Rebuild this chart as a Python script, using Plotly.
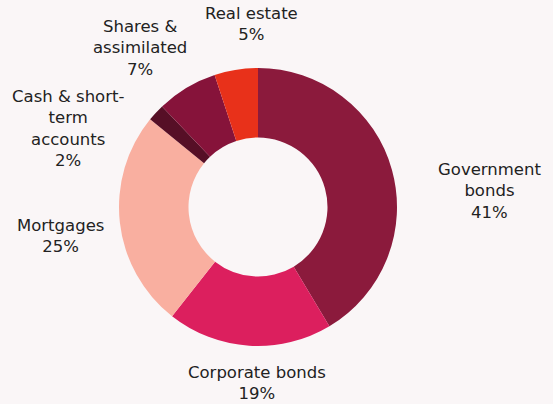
import plotly.graph_objects as go

W, H = 553, 404

# Portfolio allocation, clockwise from 12 o'clock
categories = ["Government bonds", "Corporate bonds", "Mortgages",
              "Cash & short-term accounts", "Shares & assimilated", "Real estate"]
label_lines = [["Government", "bonds"], ["Corporate bonds"], ["Mortgages"],
               ["Cash & short-", "term", "accounts"], ["Shares &", "assimilated"],
               ["Real estate"]]
shares_pct = [41, 19, 25, 2, 7, 5]
colors = ["#8B1A3C", "#DC1F5E", "#F9AFA0", "#560F26", "#86133A", "#E8311A"]

# Label anchor points in pixels (centre of each text block)
label_px = [(490, 191), (257, 383), (60, 236), (68, 128), (140, 48), (251, 24)]

# Donut geometry in pixels
cx, cy, r = 258, 207, 139

fig = go.Figure(go.Pie(
    labels=categories,
    values=shares_pct,
    marker=dict(colors=colors, line=dict(width=0)),
    hole=0.5,
    sort=False,
    direction="clockwise",
    rotation=0,
    textinfo="none",
    hoverinfo="label+percent",
    showlegend=False,
    domain=dict(x=[(cx - r) / W, (cx + r) / W],
                y=[(H - cy - r) / H, (H - cy + r) / H]),
))

for lines, v, (px, py) in zip(label_lines, shares_pct, label_px):
    fig.add_annotation(
        text="<br>".join(lines + [f"{v}%"]),
        x=px / W, y=1 - py / H, xref="paper", yref="paper",
        xanchor="center", yanchor="middle", showarrow=False, align="center",
        font=dict(family="DejaVu Sans", size=16.5, color="#222222"),
    )

fig.update_layout(
    width=W, height=H,
    margin=dict(l=0, r=0, t=0, b=0),
    paper_bgcolor="#FAF6F7",
    plot_bgcolor="#FAF6F7",
)

fig.write_html("out.html")
